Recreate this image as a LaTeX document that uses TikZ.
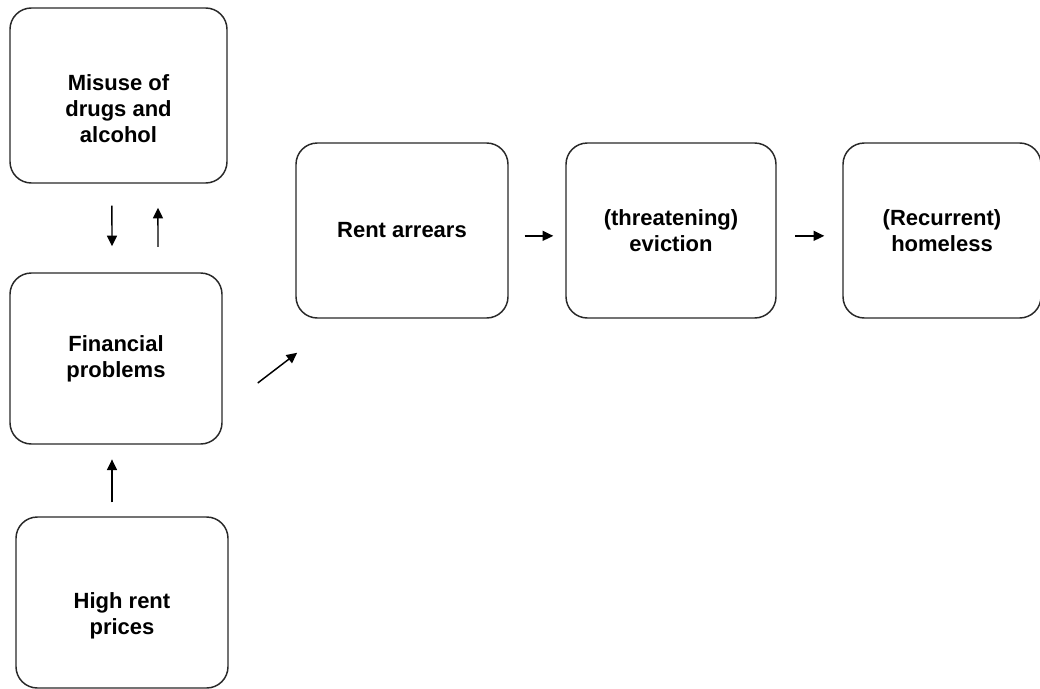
\documentclass[tikz,border=0pt]{standalone}
\usepackage{fontspec}
\setmainfont{Liberation Sans}
\usepackage{tikz}
\usetikzlibrary{arrows.meta,positioning,calc}
\definecolor{edgegray}{RGB}{40,40,40}
\tikzset{
    cbox/.style={draw=edgegray, line width=1.1pt, rounded corners=16pt,
                 minimum width=159pt, minimum height=131.25pt, inner sep=0pt,
                 align=center, font=\fontsize{16.5}{19.5}\selectfont\bfseries},
}

\begin{document}
\begin{tikzpicture}[
    x=0.75pt, y=-0.75pt,
    arr/.style={-{Triangle[length=8pt,width=7.5pt]}, line width=1.1pt}
]
    \useasboundingbox (0,0) rectangle (1040,689);
    % left column
    \node[cbox, minimum width=162.75pt] (misuse) at (118.5,95.5)
        {\rule{0pt}{32pt}Misuse of\\drugs and\\alcohol};
    \node[cbox, minimum height=128.25pt] (fin) at (116,358.5)
        {Financial\\problems};
    \node[cbox, minimum height=128.25pt] (high) at (122,602.5)
        {\rule{0pt}{32pt}High rent\\prices};
    % top row
    \node[cbox] (rent) at (402,230.5) {Rent arrears};
    \node[cbox, minimum width=157.5pt] (evict) at (671,230.5)
        {(threatening)\\eviction};
    \node[cbox, minimum width=148.5pt] (homeless) at (942,230.5)
        {(Recurrent)\\homeless};
    % arrows
    \draw[arr, shorten <=16.5pt, shorten >=19.5pt]
        ([xshift=-4.9pt]misuse.south) -- ([xshift=-3pt]fin.north);
    \draw[arr, shorten <=19pt, shorten >=18pt]
        ([xshift=31.5pt]fin.north) -- ([xshift=29.6pt]misuse.south);
    \draw[arr, shorten <=10.5pt, shorten >=11pt]
        ([xshift=-7.5pt]high.north) -- ([xshift=-3pt]fin.south);
    \draw[arr] ([shift={(35,24.5)}]fin.east) -- ([shift={(2,34)}]rent.south west);
    \draw[arr, shorten <=12pt, shorten >=9pt]
        ([yshift=-4pt]rent.east) -- ([yshift=-4pt]evict.west);
    \draw[arr, shorten <=14pt, shorten >=13.5pt]
        ([yshift=-4pt]evict.east) -- ([yshift=-4pt]homeless.west);
\end{tikzpicture}
\end{document}
